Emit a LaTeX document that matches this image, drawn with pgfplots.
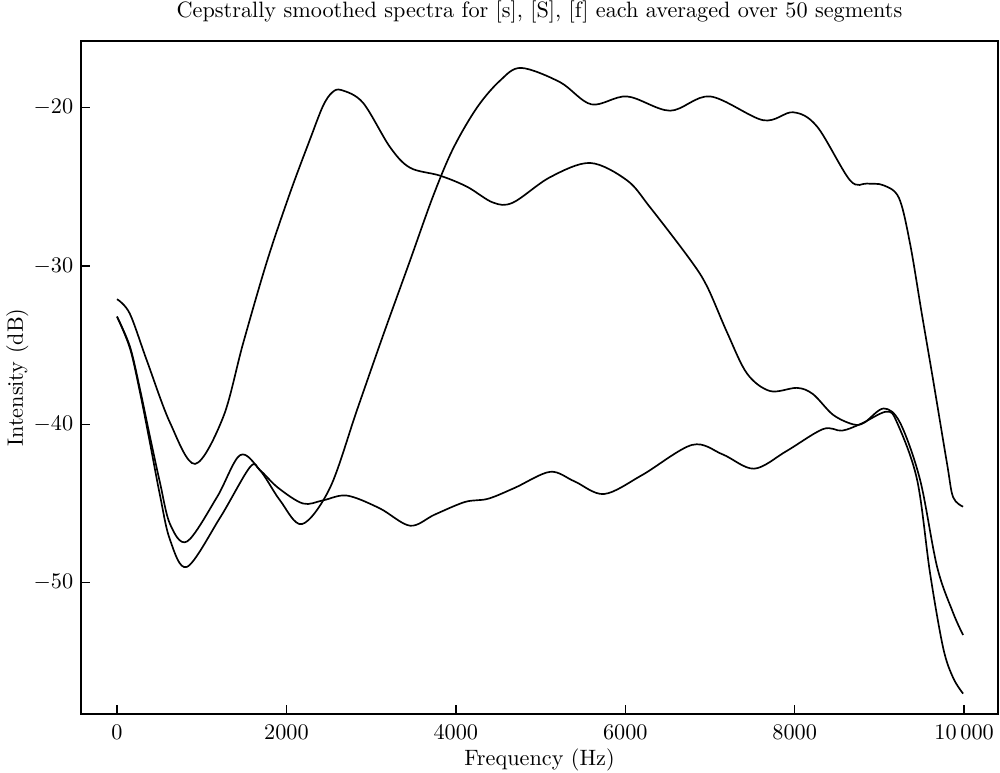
\documentclass[border=0pt]{standalone}
\usepackage{pgfplots}
\pgfplotsset{compat=1.18}
\begin{document}
\begin{tikzpicture}
\begin{axis}[
  scale only axis,
  width=412.6pt, height=302.9pt,
  xmin=-425, xmax=10400, ymin=-58.3, ymax=-15.8,
  axis line style={line width=0.9pt},
  tick align=inside, major tick length=4pt,
  xtick pos=bottom, ytick pos=left,
  xtick={0,2000,4000,6000,8000,10000},
  xticklabels={0,2000,4000,6000,8000,10\,000},
  ytick={-50,-40,-30,-20},
  yticklabels={$-50$,$-40$,$-30$,$-20$},
  scaled x ticks=false,
  every tick/.style={black, line width=0.6pt},
  xticklabel style={yshift=-1pt},
  title={Cepstrally smoothed spectra for [s], [S], [f] each averaged over 50 segments},
  title style={at={(0.5,1)}, anchor=base, yshift=4.4pt},
  xlabel={Frequency (Hz)},
  ylabel={Intensity (dB)},
  xlabel style={yshift=3pt},
  ylabel style={yshift=-4.5pt},
  curve/.style={black, line width=0.75pt, smooth, tension=0.55, mark=none},
]
\coordinate (SW) at (rel axis cs:0,0);
\coordinate (NE) at (rel axis cs:1,1);
% curve B
\addplot[curve] coordinates {
(0,-32.1) (150,-33.0) (354,-36.0) (626,-39.9) (921,-42.5) (1253,-39.55)
(1488,-34.9) (1771,-29.7) (2042,-25.4) (2279,-22.0) (2432,-19.9) (2540,-19.05) (2650,-18.9)
(2904,-19.7) (3223,-22.5) (3459,-23.8) (3813,-24.3) (4132,-25.0) (4439,-26.0)
(4675,-26.0) (5112,-24.4) (5584,-23.5) (6021,-24.6) (6293,-26.3) (6765,-29.6)
(6966,-31.3) (7202,-34.2) (7438,-36.8) (7710,-37.9) (8028,-37.7) (8217,-38.1)
(8453,-39.4) (8689,-40.0) (8820,-39.9) (9050,-39.0) (9244,-39.9) (9480,-43.5)
(9681,-49.0) (9870,-51.9) (9988,-53.3)
};
% curve A
\addplot[curve] coordinates {
(0,-33.2) (153,-35.1) (272,-37.8) (390,-40.8) (508,-43.7) (626,-46.3)
(826,-47.4) (1180,-44.6) (1452,-41.95) (1688,-42.9) (1924,-44.8) (2184,-46.3)
(2515,-44.0) (2833,-39.1) (3140,-34.4) (3450,-29.8) (3731,-25.6)
(3967,-22.6) (4250,-20.0) (4522,-18.3) (4770,-17.5) (5230,-18.4) (5600,-19.8) (6021,-19.3)
(6529,-20.2) (7001,-19.3) (7627,-20.8) (7981,-20.3) (8264,-21.2) (8654,-24.6)
(8854,-24.8) (9043,-24.9) (9230,-25.7) (9362,-28.6) (9500,-33.0) (9634,-37.2)
(9799,-42.5) (9870,-44.6) (9988,-45.2)
};
% curve C
\addplot[curve] coordinates {
(0,-33.2) (153,-35.2) (272,-38.0) (390,-41.2) (508,-44.5) (626,-47.3)
(826,-49.0) (1216,-45.9) (1570,-42.7) (1688,-42.9) (1900,-44.0) (2196,-45.0)
(2432,-44.8) (2715,-44.5) (3100,-45.3) (3459,-46.4) (3750,-45.7) (4109,-44.9)
(4380,-44.7) (4700,-44.0) (5112,-43.0) (5400,-43.6) (5750,-44.4) (6200,-43.2)
(6789,-41.3) (7150,-41.9) (7520,-42.8) (7900,-41.7) (8335,-40.3) (8559,-40.4)
(8790,-39.95) (9085,-39.2) (9209,-39.9) (9445,-43.5) (9598,-49.4) (9752,-54.1)
(9870,-56.0) (9988,-57.0)
};
\end{axis}
\pgfresetboundingbox
\path[use as bounding box] ([xshift=-36.45pt,yshift=-26.1pt]SW) rectangle ([xshift=0.9pt,yshift=18.45pt]NE);
\end{tikzpicture}
\end{document}
